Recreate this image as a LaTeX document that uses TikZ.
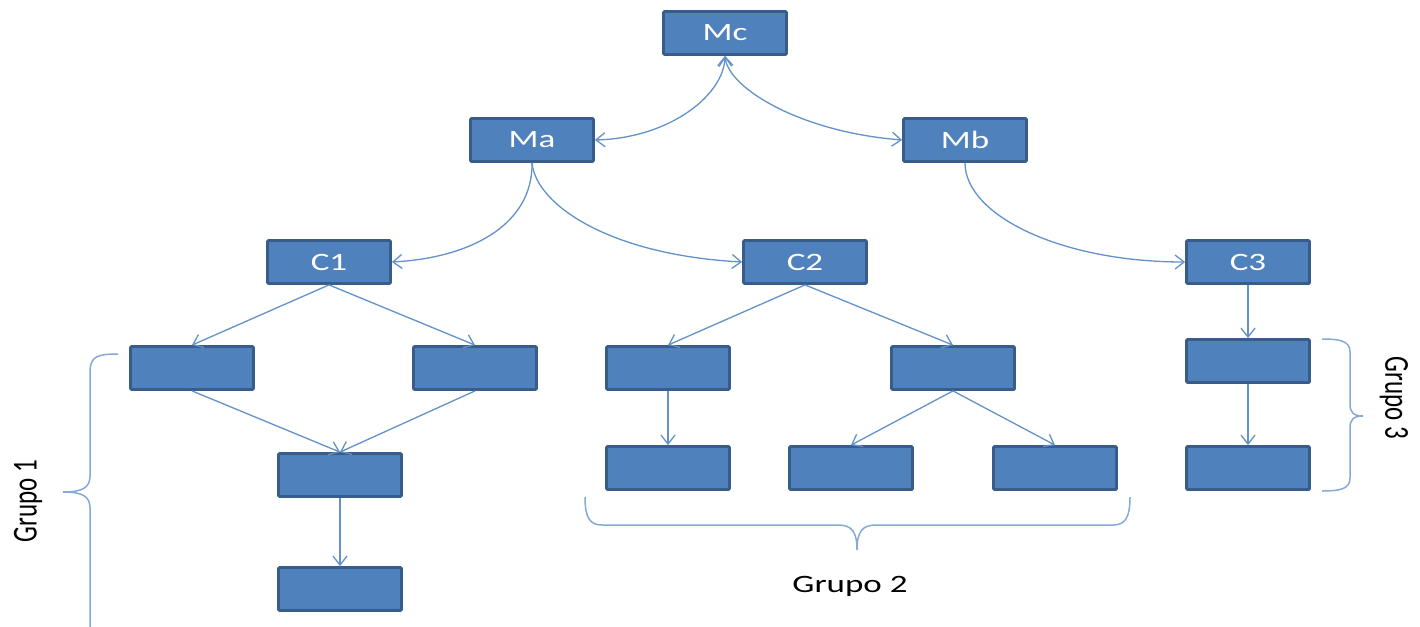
\documentclass[tikz,border=0pt]{standalone}
\usepackage{fontspec}
\setmainfont{Carlito}
\usepackage{graphicx}
\usetikzlibrary{arrows.meta}
\definecolor{boxfill}{HTML}{4F81BD}
\definecolor{boxline}{HTML}{385D8A}
\definecolor{conn}{HTML}{6391C9}
\definecolor{bracec}{HTML}{86A9D6}
\newcommand{\wide}[1]{\scalebox{1.4}[1]{#1}}
\begin{document}
\begin{tikzpicture}[x=1pt,y=-1pt,
  blk/.style={draw=boxline, fill=boxfill, line width=2.8pt, minimum width=123pt, minimum height=43pt, inner sep=0pt, rounded corners=1pt, text=white, font=\fontsize{25pt}{30pt}\selectfont},
  link/.style={draw=conn, line width=1.3pt, arrows={-Straight Barb[length=9pt,width=14pt]}},
  twoway/.style={draw=conn, line width=1.3pt, arrows={Straight Barb[length=9pt,width=14pt]-Straight Barb[length=9pt,width=14pt]}},
  brace/.style={draw=bracec, line width=1.5pt},
  grp/.style={text=black, inner sep=0pt, font=\fontsize{25pt}{30pt}\selectfont}]
\useasboundingbox (0,0) rectangle (1420,626);
% boxes
\node[blk] (Mc) at (725,33) {\wide{Mc}};
\node[blk] (Ma) at (532,140) {\wide{Ma}};
\node[blk] (Mb) at (965,140) {\wide{Mb}};
\node[blk] (C1) at (329,262) {\wide{C1}};
\node[blk] (C2) at (805,262) {\wide{C2}};
\node[blk] (C3) at (1248,262) {\wide{C3}};
\node[blk] (a1) at (192,368) {};
\node[blk] (a2) at (475,368) {};
\node[blk] (a3) at (340,475) {};
\node[blk] (a4) at (340,589) {};
\node[blk] (b1) at (668,368) {};
\node[blk] (b2) at (953,368) {};
\node[blk] (b3) at (668,468) {};
\node[blk] (b4) at (851,468) {};
\node[blk] (b5) at (1055,468) {};
\node[blk] (c1) at (1248,361) {};
\node[blk] (c2) at (1248,468) {};
% curved connectors
\draw[twoway] (Mc.south) .. controls (724,95) and (670,138) .. (Ma.east);
\draw[twoway] (Mc.south) .. controls (728,88) and (800,132) .. (Mb.west);
\draw[link] (Ma.south) .. controls (533,225) and (470,258) .. (C1.east);
\draw[link] (Ma.south) .. controls (536,205) and (610,255) .. (C2.west);
\draw[link] (Mb.south) .. controls (965,215) and (1060,262) .. (C3.west);
% straight connectors
\draw[link] (C1.south) -- (a1.north);
\draw[link] (C1.south) -- (a2.north);
\draw[link] (a1.south) -- (a3.north);
\draw[link] (a2.south) -- (a3.north);
\draw[link] (a3.south) -- (a4.north);
\draw[link] (C2.south) -- (b1.north);
\draw[link] (C2.south) -- (b2.north);
\draw[link] (b1.south) -- (b3.north);
\draw[link] (b2.south) -- (b4.north);
\draw[link] (b2.south) -- (b5.north);
\draw[link] (C3.south) -- (c1.north);
\draw[link] (c1.south) -- (c2.north);
% braces
\draw[brace] (118,354) .. controls (98,354) and (90,356) .. (90,372) -- (90,476) .. controls (90,488) and (82,492) .. (63,492) .. controls (82,492) and (90,496) .. (90,508) -- (90,650);
\draw[brace] (1322,339) .. controls (1340,339) and (1350,341) .. (1350,352) -- (1350,404) .. controls (1350,412) and (1353,416) .. (1363,416) .. controls (1353,416) and (1350,420) .. (1350,428) -- (1350,478) .. controls (1350,489) and (1340,491) .. (1322,491);
\draw[brace] (585,497) .. controls (585,518) and (590,525) .. (602,525) -- (838,525) .. controls (852,525) and (857,532) .. (857,550) .. controls (857,532) and (862,525) .. (876,525) -- (1113,525) .. controls (1125,525) and (1130,518) .. (1130,497);
% labels
\node[grp] (g1) at (28,501) {\wide{\rotatebox{90}{Grupo 1}}};
\node[grp] (g3) at (1394,398) {\wide{\rotatebox{-90}{Grupo 3}}};
\node[grp] (g2) at (850,586) {\wide{Grupo 2}};
\end{tikzpicture}
\end{document}
